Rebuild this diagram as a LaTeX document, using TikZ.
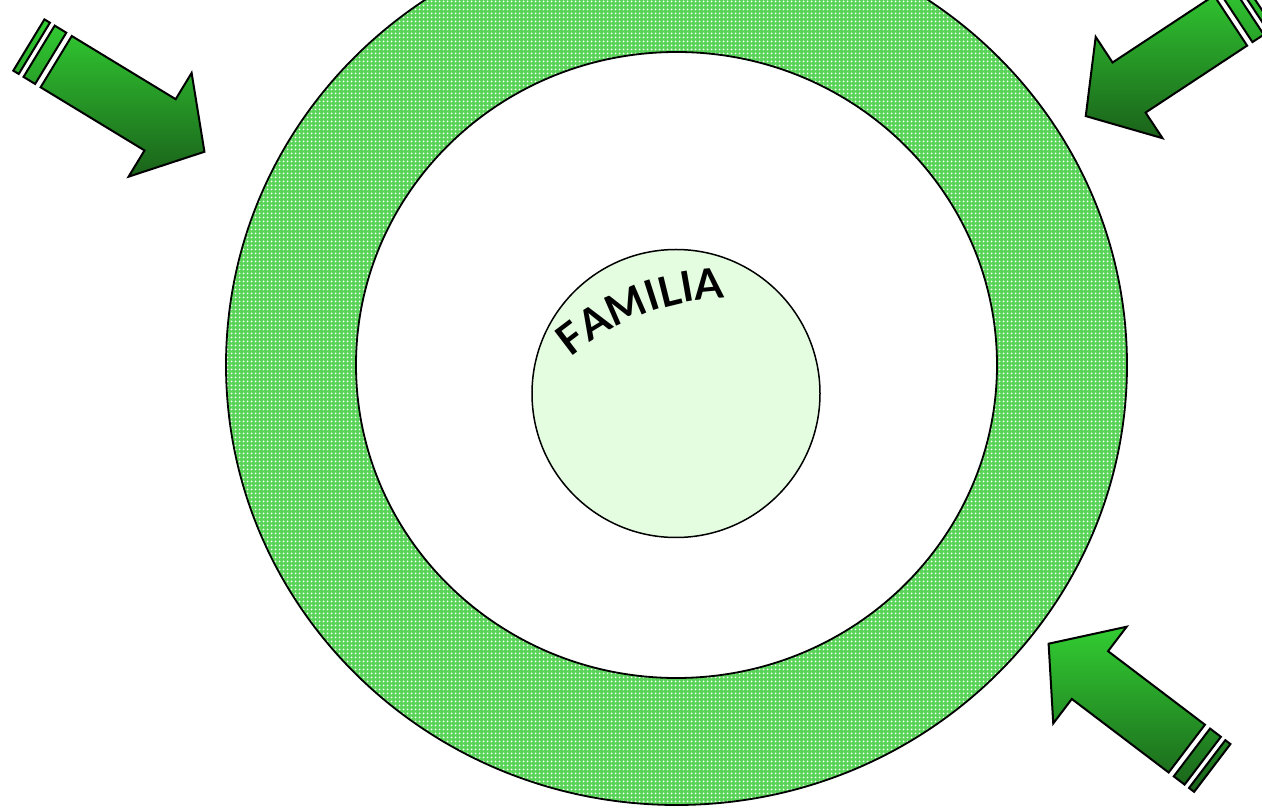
\documentclass[tikz,border=0pt]{standalone}
\usepackage{fontspec}
\setmainfont{Lato}
\usetikzlibrary{patterns.meta,decorations.text,calc}
\definecolor{ringgreen}{RGB}{60,205,60}
\definecolor{palegreen}{RGB}{228,252,224}
\definecolor{arrowtop}{RGB}{50,205,50}
\definecolor{arrowbot}{RGB}{26,98,26}
\tikzset{
  arrowstyle/.style={draw=black, line width=2pt, line join=miter, top color=arrowtop, bottom color=arrowbot},
  ringline/.style={draw=black, line width=1.8pt},
}
\newcommand{\blockarrow}[4]{%
  \begin{scope}[shift={(#2,#3)},rotate=#4]
    \coordinate (#1a) at (0,30);
    \coordinate (#1b) at (121.6,30);
    \coordinate (#1c) at (121.6,60.7);
    \coordinate (#1d) at (173.5,0);
    \coordinate (#1e) at (121.6,-60.7);
    \coordinate (#1f) at (121.6,-30);
    \coordinate (#1g) at (0,-30);
    \coordinate (#1h) at (-6.4,30);
    \coordinate (#1i) at (-20,30);
    \coordinate (#1j) at (-20,-30);
    \coordinate (#1k) at (-6.4,-30);
    \coordinate (#1l) at (-25.6,30);
    \coordinate (#1m) at (-32,30);
    \coordinate (#1n) at (-32,-30);
    \coordinate (#1o) at (-25.6,-30);
  \end{scope}
  \shadedraw[arrowstyle]
    (#1a) -- (#1b) -- (#1c) -- (#1d) -- (#1e) -- (#1f) -- (#1g) -- cycle
    (#1h) -- (#1i) -- (#1j) -- (#1k) -- cycle
    (#1l) -- (#1m) -- (#1n) -- (#1o) -- cycle;
}
\begin{document}
\begin{tikzpicture}[x=1pt,y=1pt]
  \useasboundingbox (0,0) rectangle (1262,809);
  \clip (0,0) rectangle (1262,809);
  \fill[white] (0,0) rectangle (1262,809);
  % ring
  \coordinate (ringc) at (676.5,444);
  \path[fill=ringgreen!85!white, even odd rule]
    (ringc) ellipse [x radius=450.5, y radius=440]
    (ringc) ellipse [x radius=320.5, y radius=313];
  \path[pattern={Dots[distance=4pt, radius=1.2pt]}, pattern color=white, even odd rule]
    (ringc) ellipse [x radius=450.5, y radius=440]
    (ringc) ellipse [x radius=320.5, y radius=313];
  \draw[ringline] (ringc) ellipse [x radius=450.5, y radius=440];
  \draw[ringline] (ringc) ellipse [x radius=320.5, y radius=313];
  % inner circle
  \node[circle, draw=black, line width=1.5pt, fill=palegreen, minimum size=288pt, inner sep=0pt] (fam) at (676,415.5) {};
  % curved text
  \coordinate (tc) at (734,256);
  \path[decorate, decoration={text along path, text align=center,
      text={|\fontsize{42}{42}\selectfont\bfseries|FAMILIA}}]
    ($(tc)+(130:255)$) arc [start angle=130, end angle=92, radius=255];
  % arrows
  \blockarrow{tl}{56.2}{747.35}{-31.3}
  \blockarrow{tr}{1230.6}{788.4}{-146.6}
  \blockarrow{br}{1186.8}{60.4}{142.8}
\end{tikzpicture}
\end{document}
